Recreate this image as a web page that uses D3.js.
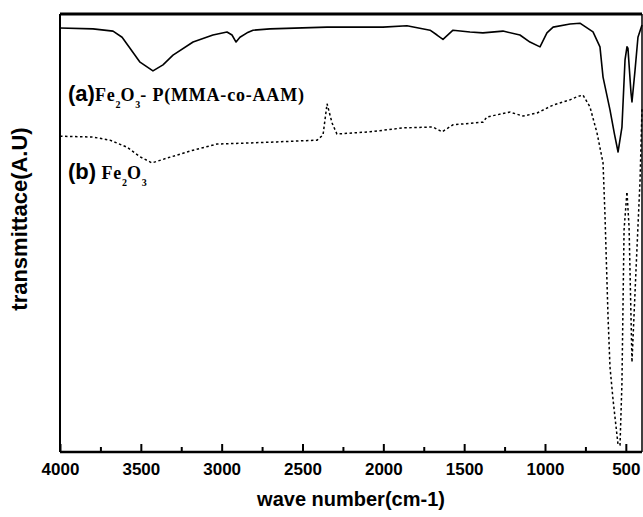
<!DOCTYPE html>
<html>
<head>
<meta charset="utf-8">
<script src="https://cdn.jsdelivr.net/npm/d3@7"></script>
<style>
  body { margin: 0; background: #fff; }
</style>
</head>
<body>
<div id="grafico"></div>
<script>
// (a) Fe2O3 - P(MMA-co-AAM), solid
const wnA = [4000, 3796, 3672, 3616, 3567, 3505, 3425, 3363, 3301, 3177, 3054, 2967, 2936, 2911, 2887, 2843, 2806, 2701, 2348, 2002, 1854, 1711, 1668, 1631, 1569, 1464, 1384, 1260, 1155, 1093, 1031, 988, 950, 845, 784, 703, 660, 641, 598, 570, 548, 524, 505, 493, 487, 468, 462, 443, 425, 400];
const tA = [96.8, 96.6, 96.1, 94.7, 92.2, 89.0, 87.0, 88.4, 90.6, 93.6, 95.2, 95.9, 95.2, 93.6, 94.7, 95.7, 96.3, 96.6, 97.0, 97.0, 97.3, 96.3, 95.2, 94.2, 96.3, 95.9, 95.7, 96.1, 95.2, 93.6, 92.5, 95.7, 97.0, 97.7, 97.9, 95.9, 92.5, 85.6, 78.1, 72.5, 68.5, 74.2, 89.5, 92.5, 92.2, 82.0, 79.9, 87.2, 94.7, 97.5];

// (b) Fe2O3, dotted
const wnB = [4000, 3796, 3691, 3586, 3505, 3431, 3338, 3177, 3029, 2868, 2658, 2410, 2373, 2348, 2317, 2287, 2082, 1878, 1693, 1637, 1569, 1384, 1359, 1216, 1136, 1049, 950, 845, 802, 765, 722, 678, 641, 629, 610, 598, 579, 548, 536, 524, 517, 511, 493, 480, 468, 462, 437, 412, 400];
const tB = [72.1, 71.9, 71.2, 69.6, 67.4, 66.0, 67.1, 68.9, 70.3, 70.5, 70.8, 71.2, 72.4, 79.5, 75.1, 72.6, 73.1, 74.0, 74.2, 73.1, 74.7, 75.3, 76.5, 77.6, 76.7, 77.4, 79.2, 80.4, 81.1, 81.5, 78.8, 72.8, 66.0, 54.1, 30.8, 19.4, 11.9, 1.6, 1.6, 15.8, 34.7, 50.7, 59.4, 51.4, 30.8, 20.5, 41.6, 62.1, 78.5];

const majorTicks = [4000, 3500, 3000, 2500, 2000, 1500, 1000, 500];
const minorTicks = [3750, 3250, 2750, 2250, 1750, 1250, 750];

const margin = { top: 14, right: 1, bottom: 65, left: 60 };
const width = 643 - margin.left - margin.right;
const height = 517 - margin.top - margin.bottom;

const svg = d3
  .select("#grafico")
  .append("svg")
  .attr("width", 643)
  .attr("height", 517);

const g = svg.append("g").attr("transform", `translate(${margin.left},${margin.top})`);

const x = d3.scaleLinear().domain([4000, 400]).range([0, width]);
const y = d3.scaleLinear().domain([0, 100]).range([height, 0]);

// ticks (pointing inward)
const xAxis = d3.axisBottom(x)
  .tickValues(majorTicks)
  .tickSizeInner(-8)
  .tickSizeOuter(0)
  .tickPadding(11)
  .tickFormat(d3.format("d"));

const ax = g.append("g").attr("transform", `translate(0,${height})`).call(xAxis);
ax.select(".domain").remove();
ax.selectAll("line").attr("stroke", "#000").attr("stroke-width", 2);
ax.selectAll("text")
  .attr("font-family", "'Liberation Sans', Arial, sans-serif")
  .attr("font-weight", "bold")
  .attr("font-size", 17)
  .attr("fill", "#000");

const minorAxis = d3.axisBottom(x).tickValues(minorTicks).tickSizeInner(-5).tickSizeOuter(0).tickFormat("");
const mx = g.append("g").attr("transform", `translate(0,${height})`).call(minorAxis);
mx.select(".domain").remove();
mx.selectAll("line").attr("stroke", "#000").attr("stroke-width", 2);

// curves
const line = d3.line()
  .x((d) => x(d[0]))
  .y((d) => y(d[1]));

g.append("path")
  .datum(d3.zip(wnB, tB))
  .attr("fill", "none")
  .attr("stroke", "#000")
  .attr("stroke-width", 1.5)
  .attr("stroke-dasharray", "2.5,2.5")
  .attr("d", line);

g.append("path")
  .datum(d3.zip(wnA, tA))
  .attr("fill", "none")
  .attr("stroke", "#000")
  .attr("stroke-width", 1.6)
  .attr("stroke-linejoin", "round")
  .attr("d", line);

// frame
g.append("line").attr("x1", 0).attr("x2", width).attr("y1", 0).attr("y2", 0).attr("stroke", "#000").attr("stroke-width", 3);
g.append("line").attr("x1", 0).attr("x2", width).attr("y1", height).attr("y2", height).attr("stroke", "#000").attr("stroke-width", 2.5);
g.append("line").attr("x1", 0).attr("x2", 0).attr("y1", 0).attr("y2", height).attr("stroke", "#000").attr("stroke-width", 2);
g.append("line").attr("x1", width).attr("x2", width).attr("y1", 0).attr("y2", height).attr("stroke", "#000").attr("stroke-width", 1.5);

// axis titles
svg.append("text")
  .attr("x", margin.left + width / 2)
  .attr("y", 506)
  .attr("text-anchor", "middle")
  .attr("font-family", "'Liberation Sans', Arial, sans-serif")
  .attr("font-weight", "bold")
  .attr("font-size", 20)
  .text("wave number(cm-1)");

svg.append("text")
  .attr("transform", "translate(27,219) rotate(-90)")
  .attr("text-anchor", "middle")
  .attr("font-family", "'Liberation Sans', Arial, sans-serif")
  .attr("font-weight", "bold")
  .attr("font-size", 22)
  .text("transmittace(A.U)");

// curve labels
function etiqueta(px, py, partes) {
  const t = svg.append("text").attr("x", px).attr("y", py);
  t.append("tspan")
    .attr("font-family", "'Liberation Sans', Arial, sans-serif")
    .attr("font-weight", "bold")
    .attr("font-size", 22)
    .text(partes[0]);
  partes.slice(1).forEach((p) => {
    const sub = p.sub;
    t.append("tspan")
      .attr("font-family", "'Liberation Serif', 'Times New Roman', serif")
      .attr("font-weight", "bold")
      .attr("font-size", sub ? 10 : 18)
      .attr("letter-spacing", sub ? 0 : 0.8)
      .attr("dy", sub ? 7 : p.back ? -7 : 0)
      .text(p.s);
  });
}

etiqueta(68, 101, ["(a)", { s: "Fe" }, { s: "2", sub: true }, { s: "O", back: true }, { s: "3", sub: true }, { s: "- P(MMA-co-AAM)", back: true }]);
etiqueta(68, 179, ["(b)", { s: " Fe" }, { s: "2", sub: true }, { s: "O", back: true }, { s: "3", sub: true }]);
</script>
</body>
</html>
